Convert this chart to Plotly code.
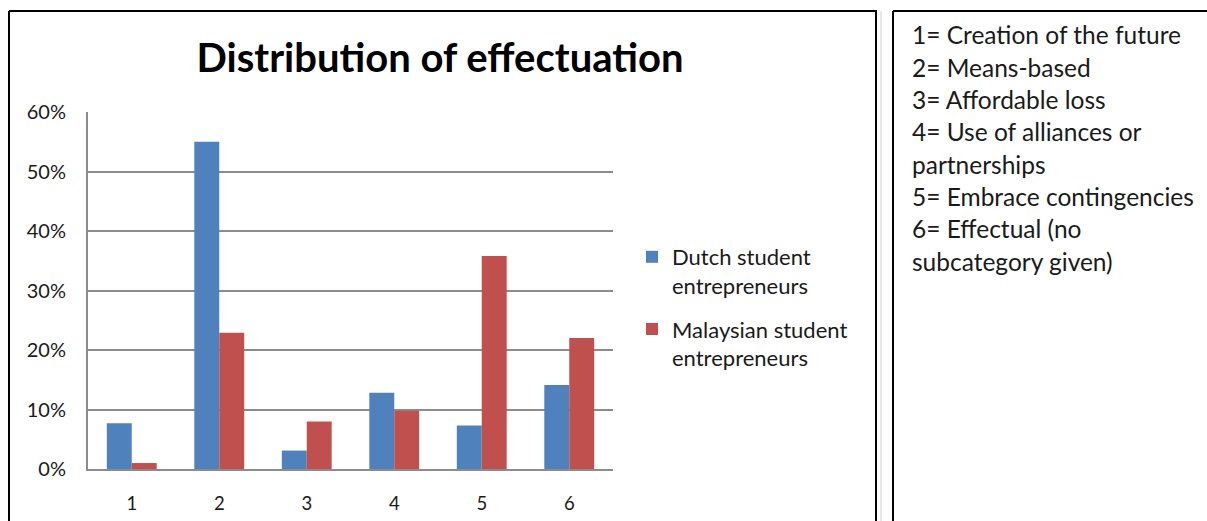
import plotly.graph_objects as go

W, H = 1207, 521

categories = ["1", "2", "3", "4", "5", "6"]
dutch = [0.077, 0.55, 0.031, 0.128, 0.073, 0.141]
malaysian = [0.01, 0.229, 0.08, 0.098, 0.358, 0.22]
series_names = ["Dutch student<br>entrepreneurs", "Malaysian student<br>entrepreneurs"]
y_ticks = [0, 0.1, 0.2, 0.3, 0.4, 0.5, 0.6]
legend_lines = [
    "1= Creation of the future",
    "2= Means-based",
    "3= Affordable loss",
    "4= Use of alliances or",
    "partnerships",
    "5= Embrace contingencies",
    "6= Effectual (no",
    "subcategory given)",
]

FONT = "Lato, Calibri, Open Sans, sans-serif"
BLUE = "#4F81BD"
RED = "#C0504D"
GRID = "#8C8C8C"
TXT = "#1a1a1a"


def px(x):
    return x / W


def py(y):
    return 1 - y / H


fig = go.Figure()
fig.add_trace(go.Bar(x=categories, y=dutch, name=series_names[0], legendgroup="d",
                     marker=dict(color=BLUE, line=dict(width=0))))
fig.add_trace(go.Bar(x=categories, y=malaysian, name=series_names[1], legendgroup="m",
                     marker=dict(color=RED, line=dict(width=0))))

shapes = [
    # left chart frame
    dict(type="line", xref="paper", yref="paper", x0=px(9), x1=px(9), y0=py(11), y1=py(530),
         line=dict(color="black", width=2)),
    dict(type="line", xref="paper", yref="paper", x0=px(9), x1=px(877), y0=py(11), y1=py(11),
         line=dict(color="black", width=2)),
    dict(type="line", xref="paper", yref="paper", x0=px(876), x1=px(876), y0=py(11), y1=py(530),
         line=dict(color="black", width=2)),
    dict(type="line", xref="paper", yref="paper", x0=px(881), x1=px(881), y0=py(11), y1=py(530),
         line=dict(color="#D0D0D0", width=1)),
    # right text frame
    dict(type="line", xref="paper", yref="paper", x0=px(893), x1=px(893), y0=py(11), y1=py(530),
         line=dict(color="black", width=2)),
    dict(type="line", xref="paper", yref="paper", x0=px(893), x1=px(1210), y0=py(11), y1=py(11),
         line=dict(color="black", width=2)),
]

annotations = []
for i, line in enumerate(legend_lines):
    annotations.append(dict(
        xref="paper", yref="paper", x=px(910), y=py(35 + 32.3 * i),
        xanchor="left", yanchor="middle", showarrow=False, text=line,
        font=dict(family=FONT, size=24.5, color=TXT),
    ))

fig.update_layout(
    width=W, height=H,
    margin=dict(l=0, r=0, t=0, b=0, autoexpand=False),
    paper_bgcolor="white", plot_bgcolor="white",
    title=dict(text="<b>Distribution of effectuation</b>", x=px(440), xanchor="center",
               y=py(58), yanchor="middle",
               font=dict(family=FONT, size=40, color="black")),
    barmode="group", bargap=0.43, bargroupgap=0,
    xaxis=dict(domain=[px(88), px(613)], type="category", automargin=False,
               showline=True, linecolor=GRID, linewidth=2, showgrid=False,
               ticks="", ticklabelstandoff=17,
               tickfont=dict(family=FONT, size=18.5, color=TXT)),
    yaxis=dict(domain=[py(469), py(112)], range=[0, 0.6], tickvals=y_ticks, automargin=False,
               tickformat=".0%", showline=True, linecolor=GRID, linewidth=2,
               showgrid=True, gridcolor=GRID, gridwidth=1.5, zeroline=False,
               ticks="", ticklabelstandoff=16,
               tickfont=dict(family=FONT, size=20, color=TXT)),
    legend=dict(x=px(632), y=py(236), xanchor="left", yanchor="top", valign="top",
                font=dict(family=FONT, size=22, color=TXT),
                tracegroupgap=12, bgcolor="rgba(0,0,0,0)"),
    shapes=shapes,
    annotations=annotations,
    showlegend=True,
)

fig.write_html("out.html")
